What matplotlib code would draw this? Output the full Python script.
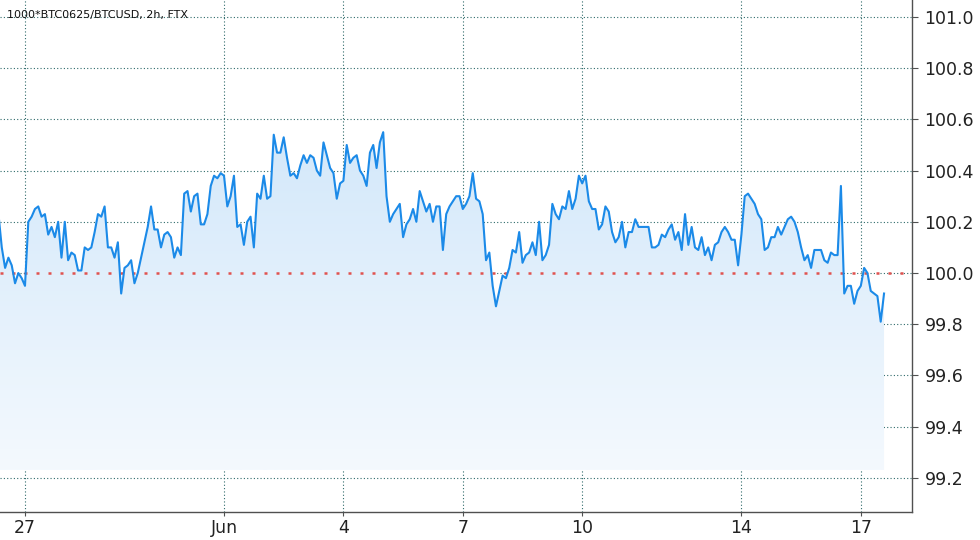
import numpy as np
import pandas as pd
import matplotlib
matplotlib.use('Agg')
import matplotlib.pyplot as plt
import matplotlib.dates as mdates
from matplotlib.colors import LinearSegmentedColormap

# data (2h closes)
title = '1000*BTC0625/BTCUSD, 2h, FTX'
start = '2021-05-26 08:00'
prices = [
    100.23, 100.10, 100.02, 100.06, 100.03, 99.96, 100.00, 99.98, 99.95, 100.20,
    100.22, 100.25, 100.26, 100.22, 100.23, 100.15, 100.18, 100.14, 100.20, 100.06,
    100.20, 100.05, 100.08, 100.07, 100.01, 100.01, 100.10, 100.09, 100.10, 100.16,
    100.23, 100.22, 100.26, 100.10, 100.10, 100.06, 100.12, 99.92, 100.02, 100.03,
    100.05, 99.96, 100.00, 100.06, 100.12, 100.18, 100.26, 100.17, 100.17, 100.10,
    100.15, 100.16, 100.14, 100.06, 100.10, 100.07, 100.31, 100.32, 100.24, 100.30,
    100.31, 100.19, 100.19, 100.23, 100.34, 100.38, 100.37, 100.39, 100.38, 100.26,
    100.30, 100.38, 100.18, 100.19, 100.11, 100.20, 100.22, 100.10, 100.31, 100.29,
    100.38, 100.29, 100.30, 100.54, 100.47, 100.47, 100.53, 100.45, 100.38, 100.39,
    100.37, 100.42, 100.46, 100.43, 100.46, 100.45, 100.40, 100.38, 100.51, 100.46,
    100.41, 100.39, 100.29, 100.35, 100.36, 100.50, 100.43, 100.45, 100.46, 100.40,
    100.38, 100.34, 100.47, 100.50, 100.41, 100.51, 100.55, 100.30, 100.20, 100.23,
    100.25, 100.27, 100.14, 100.19, 100.21, 100.25, 100.20, 100.32, 100.28, 100.24,
    100.27, 100.20, 100.26, 100.26, 100.09, 100.23, 100.26, 100.28, 100.30, 100.30,
    100.25, 100.27, 100.30, 100.39, 100.29, 100.28, 100.23, 100.05, 100.08, 99.95,
    99.87, 99.93, 99.99, 99.98, 100.02, 100.09, 100.08, 100.16, 100.04, 100.07,
    100.08, 100.12, 100.07, 100.20, 100.05, 100.07, 100.11, 100.27, 100.23, 100.21,
    100.26, 100.25, 100.32, 100.25, 100.29, 100.38, 100.35, 100.38, 100.28, 100.25,
    100.25, 100.17, 100.19, 100.26, 100.24, 100.16, 100.12, 100.14, 100.20, 100.10,
    100.16, 100.16, 100.21, 100.18, 100.18, 100.18, 100.18, 100.10, 100.10, 100.11,
    100.15, 100.14, 100.17, 100.19, 100.13, 100.16, 100.09, 100.23, 100.11, 100.18,
    100.10, 100.09, 100.14, 100.07, 100.10, 100.05, 100.11, 100.12, 100.16, 100.18,
    100.16, 100.13, 100.13, 100.03, 100.15, 100.30, 100.31, 100.29, 100.27, 100.23,
    100.21, 100.09, 100.10, 100.14, 100.14, 100.18, 100.15, 100.18, 100.21, 100.22,
    100.20, 100.16, 100.10, 100.05, 100.07, 100.02, 100.09, 100.09, 100.09, 100.05,
    100.04, 100.08, 100.07, 100.07, 100.34, 99.92, 99.95, 99.95, 99.88, 99.93,
    99.95, 100.02, 100.00, 99.93, 99.92, 99.91, 99.81, 99.92,
]
ref_level = 100.0
y_ticks = [99.2, 99.4, 99.6, 99.8, 100.0, 100.2, 100.4, 100.6, 100.8, 101.0]
x_tick_dates = ['2021-05-27', '2021-06-01', '2021-06-04', '2021-06-07',
                '2021-06-10', '2021-06-14', '2021-06-17']
x_labels = ['27', 'Jun', '4', '7', '10', '14', '17']

times = pd.date_range(start, periods=len(prices), freq='2h')
tx = mdates.date2num(times.to_pydatetime())
vals = np.array(prices)

fig = plt.figure(figsize=(9.8, 5.4), dpi=100)
ax = fig.add_axes([0, 28 / 540, 912 / 980, 512 / 540])

jun1 = mdates.date2num(pd.Timestamp('2021-06-01').to_pydatetime())
x_lo = jun1 - 5.628
x_hi = jun1 + 17.286
y_lo, y_hi = 99.067, 101.066
base = 99.23

# gradient area under the line
poly = ax.fill_between(tx, vals, base, color='none', lw=0)
cmap = LinearSegmentedColormap.from_list('area', ['#f4f9fe', '#d3e8fa'])
grad = np.linspace(0, 1, 256).reshape(-1, 1)
im = ax.imshow(grad, extent=[tx[0], tx[-1], base, vals.max()], origin='lower',
               aspect='auto', cmap=cmap, zorder=1)
im.set_clip_path(poly.get_paths()[0], transform=ax.transData)

ax.plot(tx, vals, color='#1b8ae8', lw=1.5, zorder=4)
ax.axhline(ref_level, color='#e0524f', lw=1.8, linestyle=(0, (1.2, 3.6)), zorder=3)

ax.set_xlim(x_lo, x_hi)
ax.set_ylim(y_lo, y_hi)

ax.set_xticks(mdates.date2num([pd.Timestamp(d).to_pydatetime() for d in x_tick_dates]))
ax.set_xticklabels(x_labels)
ax.set_yticks(y_ticks)
ax.set_yticklabels(['%.1f' % v for v in y_ticks])

ax.yaxis.tick_right()
ax.grid(True, color='#2f6b6b', linestyle=(0, (1, 2)), linewidth=0.8, zorder=0)
ax.set_axisbelow(True)
for s in ['top', 'left']:
    ax.spines[s].set_visible(False)
for s in ['right', 'bottom']:
    ax.spines[s].set_color('#505050')
    ax.spines[s].set_linewidth(1.0)
ax.tick_params(axis='y', length=4, width=0.8, color='#505050', pad=5,
               labelsize=12.5, labelcolor='#222222')
ax.tick_params(axis='x', length=3, width=0.8, color='#505050', pad=2,
               labelsize=12.5, labelcolor='#222222')

fig.text(7 / 980, 1 - 15 / 540, title, fontsize=8, va='center', ha='left', color='#111111')

fig.savefig('out.png', dpi=100)
